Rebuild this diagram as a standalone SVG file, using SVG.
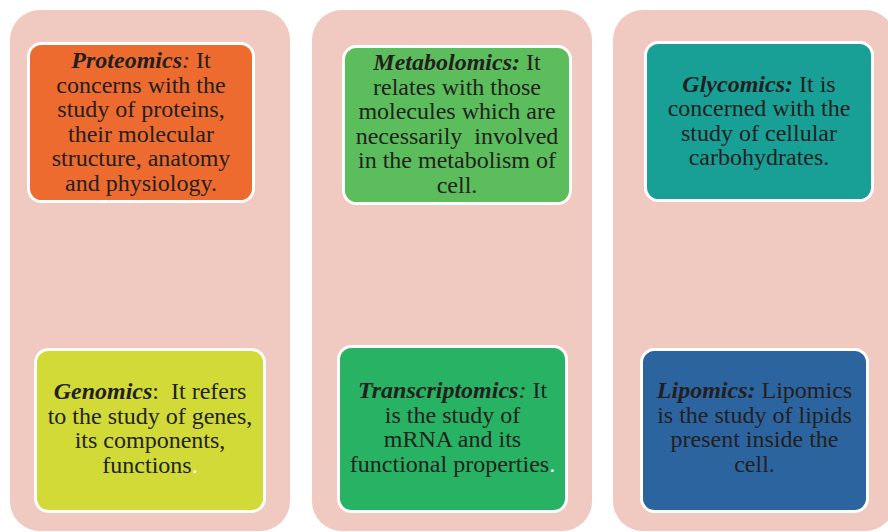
<svg xmlns="http://www.w3.org/2000/svg" width="888" height="532" viewBox="0 0 888 532">
<style>
.col{fill:#F0C9C1;}
.box{stroke:#FFFFFF;stroke-width:3;}
text{font-family:"Liberation Serif","Times New Roman",serif;font-size:24px;fill:#231F20;text-anchor:middle;white-space:pre;}
.bi{font-weight:bold;font-style:italic;}
.i{font-style:italic;}
.w{fill:#FFFFFF;}
</style>
<rect width="888" height="532" fill="#FFFFFF"/>
<g id="columns">
<rect class="col" x="10" y="10" width="280" height="521" rx="30"/>
<rect class="col" x="312" y="10" width="280" height="521" rx="30"/>
<rect class="col" x="613" y="10" width="282" height="521" rx="30"/>
</g>
<g id="connectors"></g>
<g id="proteomics">
<rect class="box" x="28.5" y="43.5" width="225" height="158" rx="13" fill="#EE6B2F"/>
<text xml:space="preserve" x="141" y="68"><tspan class="bi">Proteomics</tspan><tspan class="i">:</tspan> It</text>
<text x="141" y="92.6">concerns with the</text>
<text x="141" y="117.2">study of proteins,</text>
<text x="141" y="141.8">their molecular</text>
<text x="141" y="166.4">structure, anatomy</text>
<text x="141" y="191">and physiology.</text>
</g>
<g id="metabolomics">
<rect class="box" x="343.5" y="46.5" width="227" height="157" rx="13" fill="#5BBD5B"/>
<text xml:space="preserve" x="457" y="70"><tspan class="bi">Metabolomics:</tspan> It</text>
<text x="457" y="94.6">relates with those</text>
<text x="457" y="119.2">molecules which are</text>
<text xml:space="preserve" x="457" y="143.8">necessarily  involved</text>
<text x="457" y="168.4">in the metabolism of</text>
<text x="457" y="193">cell.</text>
</g>
<g id="glycomics">
<rect class="box" x="645.5" y="42.5" width="227" height="158" rx="13" fill="#189F96"/>
<text xml:space="preserve" x="759" y="92"><tspan class="bi">Glycomics:</tspan> It is</text>
<text x="759" y="116.4">concerned with the</text>
<text x="759" y="140.8">study of cellular</text>
<text x="759" y="165.2">carbohydrates.</text>
</g>
<g id="genomics">
<rect class="box" x="35.5" y="349.5" width="229" height="162" rx="13" fill="#D1DA36"/>
<text xml:space="preserve" x="150" y="399"><tspan class="bi">Genomics</tspan>:  It refers</text>
<text x="150" y="423.6">to the study of genes,</text>
<text x="150" y="448.2">its components,</text>
<text x="150" y="472.8">functions<tspan class="w">.</tspan></text>
</g>
<g id="transcriptomics">
<rect class="box" x="338.5" y="346.5" width="228" height="165" rx="13" fill="#28B263"/>
<text xml:space="preserve" x="452.5" y="398"><tspan class="bi">Transcriptomics</tspan><tspan class="i">:</tspan> It</text>
<text x="452.5" y="422.6">is the study of</text>
<text x="452.5" y="447.2">mRNA and its</text>
<text x="452.5" y="471.8">functional properties<tspan class="w">.</tspan></text>
</g>
<g id="lipomics">
<rect class="box" x="641.5" y="349.5" width="226" height="162" rx="13" fill="#2C64A0"/>
<text xml:space="preserve" x="754.5" y="398"><tspan class="bi">Lipomics:</tspan> Lipomics</text>
<text x="754.5" y="422.6">is the study of lipids</text>
<text x="754.5" y="447.2">present inside the</text>
<text x="754.5" y="471.8">cell.</text>
</g>
</svg>
